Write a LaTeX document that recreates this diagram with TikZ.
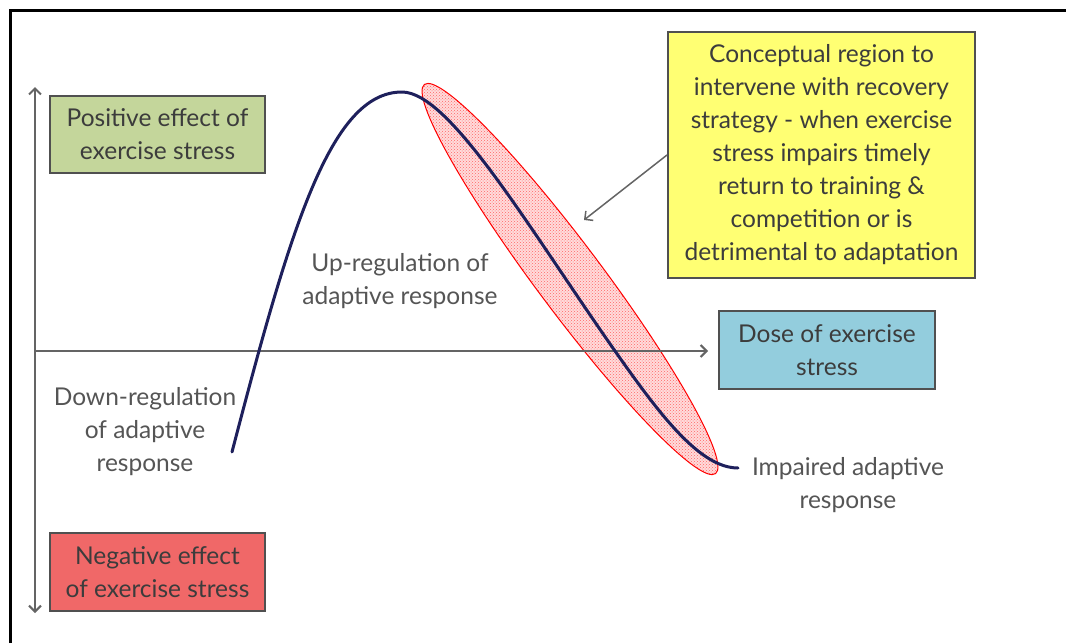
\documentclass[tikz,border=0pt]{standalone}
\usepackage{fontspec}
\setmainfont{Lato}
\usetikzlibrary{arrows.meta,positioning,patterns}
\definecolor{boxgreen}{RGB}{196,214,155}
\definecolor{boxred}{RGB}{240,104,104}
\definecolor{boxblue}{RGB}{147,205,221}
\definecolor{boxyellow}{RGB}{255,255,115}
\definecolor{boxline}{RGB}{80,80,80}
\definecolor{boxtext}{RGB}{60,60,60}
\definecolor{lbltext}{RGB}{85,85,85}
\definecolor{axisgray}{RGB}{100,100,100}
\definecolor{navy}{RGB}{30,32,92}

\begin{document}
\begin{tikzpicture}[x=1pt,y=-1pt,
  every node/.style={font=\fontsize{24.5}{33}\selectfont},
  box/.style={draw=boxline,line width=2pt,align=center,text=boxtext,inner sep=0pt},
  lbl/.style={align=center,text=lbltext},
  axis/.style={draw=axisgray,line width=2pt,>={Straight Barb[length=6pt,width=12pt]}}]
\useasboundingbox (0,0) rectangle (1066,643);
% frame
\draw[line width=3pt] (10,643) -- (10,10) -- (1066,10);

% region of recovery
\draw[red,line width=1pt,preaction={fill=red!14},pattern=crosshatch dots,pattern color=red!60]
  (570,279) ellipse[x radius=243,y radius=33,rotate=-53.2];

% axes
\coordinate (ytop) at (35,87);
\coordinate (ybot) at (35,613);
\coordinate (origin) at (35,351);
\coordinate (xend) at (708,351);
\draw[axis,<->] (ytop) -- (ybot);
\draw[axis,->] (origin) -- (xend);

% response curve
\draw[navy,line width=3pt,line cap=round]
  (232,452) .. controls (290,230) and (330,92) .. (402,92)
  .. controls (450,92) and (530,230) .. (615,351)
  .. controls (660,415) and (700,468) .. (738,468);

% boxes
\node[box,fill=boxgreen,minimum width=215,minimum height=77] (pos) at (157.5,134.5)
  {Positive effect of\\exercise stress};
\node[box,fill=boxred,minimum width=215,minimum height=78] (neg) at (157.5,572)
  {Negative effect\\of exercise stress};
\node[box,fill=boxblue,minimum width=216,minimum height=78] (dose) at (827,350)
  {Dose of exercise\\stress};
\node[box,fill=boxyellow,minimum width=307,minimum height=246] (note) at (821.5,155)
  {Conceptual region to\\intervene with recovery\\strategy - when exercise\\stress impairs timely\\return to training \&\\competition or is\\detrimental to adaptation};

% labels
\node[lbl] (up) at (400,281) {Up-regulation of\\adaptive response};
\node[lbl] (down) at (145,432) {Down-regulation\\of adaptive\\response};
\node[lbl] (impaired) at (848,485) {Impaired adaptive\\response};

\coordinate (tip) at (584,220);
\draw[axis,->,line width=1.5pt] (note.west) -- (tip);
\end{tikzpicture}
\end{document}
